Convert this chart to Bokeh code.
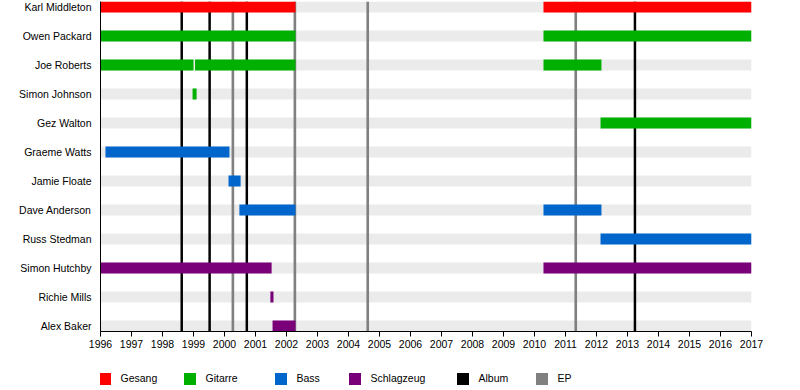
from bokeh.plotting import figure
from bokeh.layouts import column
from bokeh.models import Range1d, FixedTicker, Legend, LegendItem, ColumnDataSource
from bokeh.embed import file_html
from bokeh.resources import INLINE

members = ["Karl Middleton", "Owen Packard", "Joe Roberts", "Simon Johnson", "Gez Walton",
           "Graeme Watts", "Jamie Floate", "Dave Anderson", "Russ Stedman",
           "Simon Hutchby", "Richie Mills", "Alex Baker"]

bar_member = ["Karl Middleton", "Karl Middleton",
              "Owen Packard", "Owen Packard",
              "Joe Roberts", "Joe Roberts", "Joe Roberts",
              "Simon Johnson",
              "Gez Walton",
              "Graeme Watts",
              "Jamie Floate",
              "Dave Anderson", "Dave Anderson",
              "Russ Stedman",
              "Simon Hutchby", "Simon Hutchby",
              "Richie Mills",
              "Alex Baker"]
bar_role = ["Gesang", "Gesang",
            "Gitarre", "Gitarre",
            "Gitarre", "Gitarre", "Gitarre",
            "Gitarre",
            "Gitarre",
            "Bass",
            "Bass",
            "Bass", "Bass",
            "Bass",
            "Schlagzeug", "Schlagzeug",
            "Schlagzeug",
            "Schlagzeug"]
bar_start = [1996.0, 2010.29,
             1996.0, 2010.29,
             1996.0, 1999.05, 2010.29,
             1998.97,
             2012.13,
             1996.16,
             2000.13,
             2000.48, 2010.29,
             2012.13,
             1996.0, 2010.29,
             2001.48,
             2001.55]
bar_end = [2002.29, 2017.0,
           2002.29, 2017.0,
           1999.0, 2002.29, 2012.16,
           1999.1,
           2017.0,
           2000.16,
           2000.52,
           2002.29, 2012.16,
           2017.0,
           2001.52, 2017.0,
           2001.58,
           2002.29]

albums = [1998.62, 1999.52, 2000.72, 2013.24]
eps = [2000.27, 2002.27, 2004.62, 2011.33]

years = list(range(1996, 2018))

roles = ["Gesang", "Gitarre", "Bass", "Schlagzeug"]
role_colors = {"Gesang": "#ff0000", "Gitarre": "#00b000", "Bass": "#0066cc", "Schlagzeug": "#7a007a"}
release_labels = ["Album", "EP"]
release_colors = {"Album": "#000000", "EP": "#808080"}

FONT = "Liberation Sans"
Y_LO, Y_HI = -0.19, len(members) - 1 + 0.19
row_of = {m: len(members) - 1 - i for i, m in enumerate(members)}

p = figure(width=791, height=360, output_backend="svg", toolbar_location=None,
           x_range=Range1d(years[0], years[-1]), y_range=Range1d(Y_LO, Y_HI),
           min_border_left=100, min_border_right=40, min_border_top=1, min_border_bottom=29)
p.outline_line_color = None
p.xgrid.visible = False
p.ygrid.visible = False

# background stripes
p.hbar(y=[row_of[m] for m in members], left=years[0], right=years[-1], height=0.38,
       color="#ebebeb", line_color=None)

# release lines
p.vbar(x=albums, width=0.08, bottom=Y_LO, top=Y_HI, fill_color=release_colors["Album"], line_color=None)
p.vbar(x=eps, width=0.085, bottom=Y_LO, top=Y_HI, fill_color=release_colors["EP"], line_color=None)

# member bars
for role in roles:
    idx = [i for i, r in enumerate(bar_role) if r == role]
    src = ColumnDataSource(dict(y=[row_of[bar_member[i]] for i in idx],
                                left=[bar_start[i] for i in idx],
                                right=[bar_end[i] for i in idx]))
    p.hbar(y="y", left="left", right="right", height=0.38, source=src,
           fill_color=role_colors[role], line_color=None)

# axes
p.xaxis.ticker = FixedTicker(ticks=years)
p.xaxis.minor_tick_line_color = None
p.xaxis.major_tick_in = 0
p.xaxis.major_tick_out = 5
p.xaxis.major_tick_line_color = "black"
p.xaxis.axis_line_color = "black"
p.xaxis.major_label_standoff = 3
p.xaxis.major_label_text_font = FONT
p.xaxis.major_label_text_font_size = "10.5px"
p.xaxis.major_label_text_color = "black"

p.yaxis.ticker = FixedTicker(ticks=list(range(len(members))))
p.yaxis.major_label_overrides = {row_of[m]: m for m in members}
p.yaxis.minor_tick_line_color = None
p.yaxis.major_tick_in = 0
p.yaxis.major_tick_out = 0
p.yaxis.axis_line_color = "black"
p.yaxis.major_label_standoff = 9
p.yaxis.major_label_text_font = FONT
p.yaxis.major_label_text_font_size = "10.5px"
p.yaxis.major_label_text_color = "black"

# legend strip (its frame is aligned with the main plot's frame)
lg = figure(width=791, height=28, output_backend="svg", toolbar_location=None,
            x_range=Range1d(0, 1), y_range=Range1d(0, 1),
            min_border_left=100, min_border_right=40, min_border_top=0, min_border_bottom=0)
lg.axis.visible = False
lg.xgrid.visible = False
lg.ygrid.visible = False
lg.outline_line_color = None

legend_entries = [(r, role_colors[r]) for r in roles] + [(r, release_colors[r]) for r in release_labels]
legend_x = [-3.5, 81.5, 172.5, 246.5, 354.5, 433.5]
for (label, col), lx in zip(legend_entries, legend_x):
    # a swatch-only renderer placed outside the visible range, used just for the legend glyph
    rend = lg.hbar(y=[5], left=[0], right=[0], height=0.5, fill_color=col, line_color=None)
    leg = Legend(items=[LegendItem(label=label, renderers=[rend])], location=(lx, 2.5),
                 orientation="horizontal", glyph_width=15, glyph_height=15, label_height=15,
                 label_standoff=9, padding=0, margin=0, spacing=0,
                 border_line_color=None, background_fill_alpha=0,
                 label_text_font=FONT, label_text_font_size="10.5px", label_text_color="black")
    lg.add_layout(leg)

layout = column(p, lg, spacing=0)
open("out.html", "w").write(file_html(layout, INLINE))
